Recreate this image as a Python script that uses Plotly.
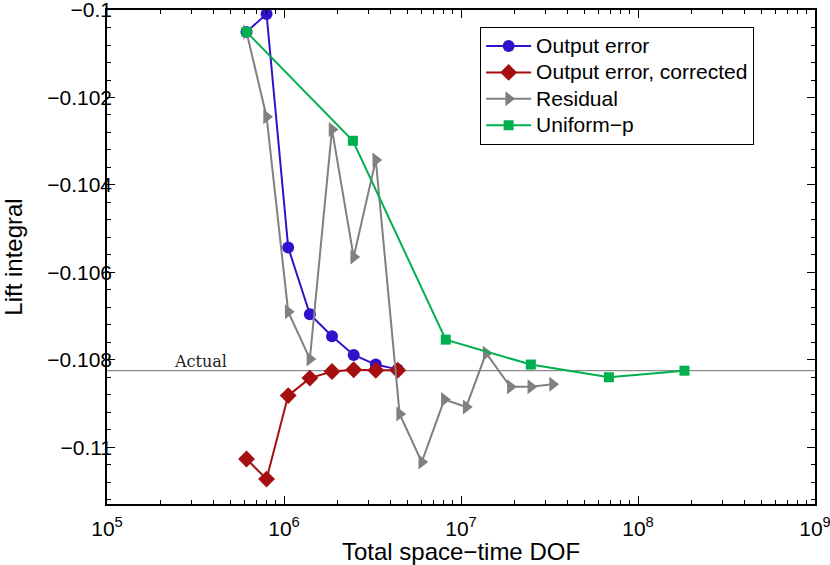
import math
import plotly.graph_objects as go

# ---- data ----
oe_x = [6.14e5, 7.97e5, 1.056e6, 1.40e6, 1.867e6, 2.475e6, 3.30e6, 4.39e6]
oe_y = [-0.10050, -0.10009, -0.10543, -0.10696, -0.10746, -0.10789, -0.10811, -0.10822]

oec_x = [6.14e5, 7.97e5, 1.056e6, 1.40e6, 1.867e6, 2.475e6, 3.30e6, 4.39e6]
oec_y = [-0.11027, -0.11073, -0.10882, -0.10842, -0.10827, -0.10823, -0.10824, -0.10824]

res_x = [6.14e5, 7.97e5, 1.056e6, 1.40e6, 1.867e6, 2.475e6, 3.30e6, 4.5e6,
         6.0e6, 8.05e6, 1.07e7, 1.387e7, 1.90e7, 2.48e7, 3.29e7]
res_y = [-0.10050, -0.10244, -0.10690, -0.10798, -0.10273, -0.10565, -0.10343, -0.10924,
         -0.11034, -0.10891, -0.10908, -0.10785, -0.10862, -0.10862, -0.10856]

up_x = [6.14e5, 2.45e6, 8.2e6, 2.48e7, 6.85e7, 1.83e8]
up_y = [-0.10050, -0.10299, -0.10754, -0.10811, -0.10840, -0.10825]

series_names = ["Output error", "Output error, corrected", "Residual", "Uniform\u2212p"]

ACTUAL = -0.10825
ACTUAL_LABEL_X = 3.36e5

x_tickvals = [1e5, 1e6, 1e7, 1e8, 1e9]
x_ticktext = ["10<sup>5</sup>", "10<sup>6</sup>", "10<sup>7</sup>", "10<sup>8</sup>", "10<sup>9</sup>"]
y_tickvals = [-0.1, -0.102, -0.104, -0.106, -0.108, -0.11]
y_ticktext = ["\u22120.1", "\u22120.102", "\u22120.104", "\u22120.106", "\u22120.108", "\u22120.11"]

FONT = "Liberation Sans, Arial, Helvetica, sans-serif"


def lname(s):
    return '<span style="font-size:21px">' + s + '</span>'


fig = go.Figure()
fig.add_trace(go.Scatter(x=oe_x, y=oe_y, name=lname(series_names[0]), mode="lines+markers",
                         line=dict(color="#3311CC", width=2),
                         marker=dict(symbol="circle", size=12, color="#3311CC")))
fig.add_trace(go.Scatter(x=oec_x, y=oec_y, name=lname(series_names[1]), mode="lines+markers",
                         line=dict(color="#A50F0F", width=2),
                         marker=dict(symbol="diamond", size=13, color="#A50F0F")))
fig.add_trace(go.Scatter(x=res_x, y=res_y, name=lname(series_names[2]), mode="lines+markers",
                         line=dict(color="#808080", width=2),
                         marker=dict(symbol="triangle-right", size=13, color="#808080")))
fig.add_trace(go.Scatter(x=up_x, y=up_y, name=lname(series_names[3]), mode="lines+markers",
                         line=dict(color="#00B04F", width=2),
                         marker=dict(symbol="square", size=10, color="#00B04F")))

fig.add_shape(type="line", xref="paper", x0=0, x1=1, yref="y", y0=ACTUAL, y1=ACTUAL,
              line=dict(color="#707070", width=1), layer="below")
fig.add_annotation(x=math.log10(ACTUAL_LABEL_X), y=ACTUAL, xref="x", yref="y",
                   text="Actual", showarrow=False, yanchor="bottom", yshift=-2,
                   font=dict(family="DejaVu Serif, Liberation Serif, serif", size=16, color="#222"))

minor_x = [k * 10 ** e for e in range(5, 9) for k in range(2, 10)]

fig.update_layout(
    width=830, height=565,
    margin=dict(l=107, r=15, t=10, b=61),
    paper_bgcolor="white", plot_bgcolor="white",
    font=dict(family=FONT, size=21, color="black"),
    showlegend=True,
    legend=dict(x=0.527, y=0.966, xanchor="left", yanchor="top",
                bordercolor="black", borderwidth=1, bgcolor="white",
                font=dict(size=18, family=FONT), itemwidth=45, tracegroupgap=0),
    xaxis=dict(type="log", range=[4.99995, 9.00005], tickmode="array", tickvals=x_tickvals, ticktext=x_ticktext,
               ticks="inside", ticklen=8, tickwidth=1, tickcolor="black", tickfont=dict(size=21),
               ticklabelstandoff=5,
               showline=True, linecolor="black", linewidth=1.5, mirror="allticks",
               showgrid=False, zeroline=False, automargin=False, ticklabeloverflow="allow",
               minor=dict(tickmode="array", tickvals=minor_x, ticks="inside", ticklen=4,
                          tickcolor="black", showgrid=False),
               title=dict(text="Total space\u2212time DOF", font=dict(size=24), standoff=2)),
    yaxis=dict(range=[-0.1113, -0.099998], tickmode="array", tickvals=y_tickvals, ticktext=y_ticktext,
               ticks="inside", ticklen=8, tickwidth=1, tickcolor="black", tickfont=dict(size=21),
               ticklabelstandoff=-11,
               showline=True, linecolor="black", linewidth=1.5, mirror="allticks",
               showgrid=False, zeroline=False, automargin=False, ticklabeloverflow="allow",
               minor=dict(dtick=0.0004, tick0=-0.1, ticks="inside", ticklen=4,
                          tickcolor="black", showgrid=False),
               title=dict(text="Lift integral", font=dict(size=24), standoff=18)),
)

fig.write_html("out.html", config={"displayModeBar": False},
               post_script="document.body.style.margin='0px';document.body.style.overflow='hidden';")
